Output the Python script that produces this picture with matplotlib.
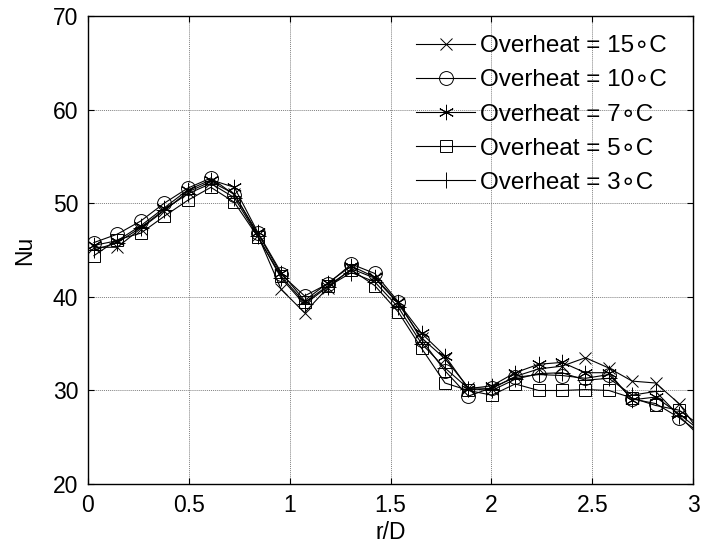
import matplotlib
matplotlib.use('Agg')
import matplotlib.pyplot as plt
import numpy as np

plt.rcParams['font.family'] = ['Liberation Sans', 'DejaVu Sans']

################  data
rD = [0.03, 0.146, 0.262, 0.378, 0.494, 0.61, 0.726, 0.842, 0.958, 1.074,
      1.19, 1.306, 1.422, 1.538, 1.654, 1.77, 1.886, 2.002, 2.118, 2.234,
      2.35, 2.466, 2.582, 2.698, 2.814, 2.93, 3.0]

nu_15 = [45.3, 45.3, 47.3, 49.2, 51.2, 52.3, 51.0, 46.6, 40.8, 38.3,
         41.0, 43.0, 42.0, 39.3, 35.6, 33.4, 30.3, 30.2, 31.5, 32.3,
         32.6, 33.5, 32.4, 31.0, 30.8, 28.6, 26.5]
nu_10 = [45.8, 46.7, 48.1, 50.0, 51.6, 52.7, 50.9, 46.8, 42.4, 40.1,
         41.4, 43.5, 42.5, 39.5, 35.4, 32.1, 29.4, 30.3, 31.4, 31.7,
         31.6, 31.3, 31.7, 29.1, 28.6, 27.1, 26.0]
nu_7 = [45.5, 46.0, 47.6, 49.5, 51.4, 52.5, 51.7, 46.9, 42.6, 39.6,
        41.5, 43.3, 42.1, 39.4, 36.1, 33.7, 30.2, 30.5, 31.9, 32.8,
        33.0, 31.9, 31.9, 29.0, 29.3, 27.5, 26.3]
nu_5 = [44.4, 46.1, 46.8, 48.6, 50.3, 51.7, 50.1, 46.4, 42.2, 39.4,
        41.2, 42.9, 41.2, 38.4, 34.5, 30.8, 30.0, 29.5, 30.7, 30.0,
        30.0, 30.1, 30.0, 29.2, 28.4, 27.9, 26.8]
nu_3 = [45.0, 45.8, 47.4, 49.3, 51.0, 52.1, 50.6, 46.5, 42.0, 39.2,
        41.1, 42.6, 41.6, 38.9, 35.0, 32.4, 30.2, 30.0, 31.2, 31.8,
        31.9, 31.1, 31.3, 29.5, 29.9, 27.3, 25.8]

series = [nu_15, nu_10, nu_7, nu_5, nu_3]
labels = ['Overheat = 15\u2218C', 'Overheat = 10\u2218C',
          'Overheat = 7\u2218C', 'Overheat = 5\u2218C',
          'Overheat = 3\u2218C']
markers = ['x', 'o', (6, 2, 0), 's', '+']
msizes = [8, 10, 11, 8.5, 11]

############################################################
fig = plt.figure(figsize=(7.03, 5.52), dpi=100)
ax = fig.add_axes([0.125, 0.123, 0.861, 0.848])

mark_idx = list(range(len(rD) - 1))
for y, lab, m, ms in zip(series, labels, markers, msizes):
    ax.plot(rD, y, color='black', lw=0.8, marker=m, ms=ms,
            mfc='none', mec='black', mew=0.7, markevery=mark_idx, label=lab)

ax.set_xlim(0, 3)
ax.set_ylim(20, 70)
ax.set_xticks(np.arange(0, 3.01, 0.5))
ax.set_xticklabels(['0', '0.5', '1', '1.5', '2', '2.5', '3'])
ax.set_yticks(np.arange(20, 71, 10))

ax.grid(True, color='#808080', linestyle=(0, (1, 1)), lw=0.7)
ax.tick_params(direction='in', length=4, width=0.8, labelsize=16.5,
               top=True, right=True, pad=7)
for s in ax.spines.values():
    s.set_linewidth(1.0)

ax.set_xlabel('r/D', fontsize=16.5, labelpad=3)
ax.set_ylabel('Nu', fontsize=16.5, labelpad=12)

ax.legend(loc='upper right', bbox_to_anchor=(0.98, 0.99), frameon=False,
          fontsize=17.5, handlelength=2.4, handletextpad=0.2,
          labelspacing=0.5, borderaxespad=0.2)

fig.savefig('out.png', dpi=100)
